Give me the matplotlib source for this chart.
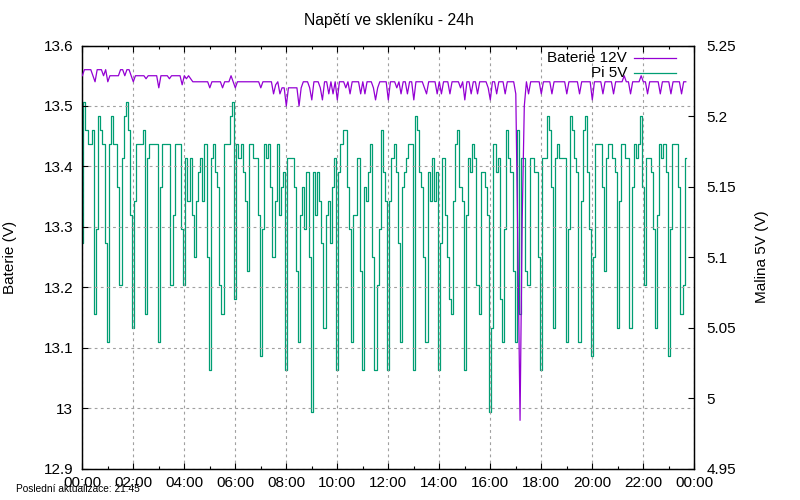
import matplotlib
matplotlib.use("Agg")
import matplotlib.pyplot as plt
from matplotlib.ticker import MultipleLocator, FixedLocator

plt.rcParams['font.family'] = ['Liberation Sans', 'DejaVu Sans']

# sampling: every 5 minutes starting 00:00
step_min = 5

battery_12v = [
    13.55, 13.56, 13.56, 13.56, 13.56, 13.55, 13.54, 13.56, 13.56, 13.56,
    13.55, 13.56, 13.54, 13.55, 13.55, 13.55, 13.55, 13.55, 13.56, 13.56,
    13.55, 13.56, 13.56, 13.55, 13.54, 13.55, 13.55, 13.55, 13.55, 13.55,
    13.545, 13.55, 13.55, 13.55, 13.55, 13.55, 13.53, 13.55, 13.55, 13.55,
    13.55, 13.545, 13.55, 13.55, 13.55, 13.55, 13.55, 13.535, 13.55, 13.545,
    13.55, 13.545, 13.54, 13.54, 13.54, 13.54, 13.54, 13.54, 13.54, 13.54,
    13.53, 13.54, 13.54, 13.54, 13.54, 13.54, 13.53, 13.54, 13.54, 13.54,
    13.55, 13.54, 13.53, 13.54, 13.54, 13.54, 13.54, 13.54, 13.54, 13.54,
    13.54, 13.54, 13.54, 13.54, 13.53, 13.54, 13.54, 13.54, 13.54, 13.54,
    13.52, 13.535, 13.54, 13.52, 13.53, 13.53, 13.50, 13.53, 13.53, 13.53,
    13.53, 13.53, 13.50, 13.53, 13.54, 13.54, 13.54, 13.53, 13.51, 13.54,
    13.54, 13.54, 13.53, 13.51, 13.54, 13.54, 13.52, 13.54, 13.52, 13.54,
    13.51, 13.54, 13.54, 13.54, 13.53, 13.54, 13.52, 13.54, 13.54, 13.54,
    13.54, 13.52, 13.54, 13.52, 13.54, 13.54, 13.54, 13.53, 13.51, 13.53,
    13.54, 13.54, 13.54, 13.54, 13.51, 13.54, 13.54, 13.54, 13.53, 13.54,
    13.52, 13.54, 13.54, 13.52, 13.54, 13.54, 13.51, 13.54, 13.54, 13.54,
    13.54, 13.53, 13.52, 13.54, 13.54, 13.54, 13.54, 13.52, 13.54, 13.52,
    13.54, 13.54, 13.54, 13.52, 13.54, 13.54, 13.54, 13.54, 13.53, 13.54,
    13.51, 13.54, 13.54, 13.52, 13.54, 13.54, 13.52, 13.54, 13.54, 13.54,
    13.54, 13.53, 13.51, 13.54, 13.54, 13.52, 13.54, 13.54, 13.54, 13.52,
    13.54, 13.54, 13.54, 13.54, 13.52, 13.26, 12.98, 13.31, 13.50, 13.54,
    13.52, 13.54, 13.54, 13.54, 13.54, 13.54, 13.52, 13.54, 13.54, 13.54,
    13.54, 13.52, 13.54, 13.54, 13.54, 13.54, 13.54, 13.54, 13.52, 13.54,
    13.54, 13.54, 13.54, 13.54, 13.52, 13.54, 13.54, 13.54, 13.54, 13.54,
    13.51, 13.54, 13.54, 13.54, 13.54, 13.52, 13.54, 13.54, 13.54, 13.54,
    13.52, 13.54, 13.54, 13.54, 13.54, 13.55, 13.54, 13.54, 13.52, 13.54,
    13.54, 13.54, 13.54, 13.55, 13.54, 13.54, 13.52, 13.54, 13.54, 13.54,
    13.54, 13.54, 13.52, 13.54, 13.54, 13.54, 13.54, 13.52, 13.54, 13.54,
    13.54, 13.54, 13.52, 13.54, 13.54,
]

pi_5v = [
    5.11, 5.21, 5.19, 5.18, 5.18, 5.19, 5.06, 5.12, 5.20, 5.19,
    5.18, 5.11, 5.04, 5.18, 5.20, 5.18, 5.18, 5.15, 5.08, 5.17,
    5.20, 5.21, 5.19, 5.13, 5.05, 5.14, 5.18, 5.18, 5.18, 5.19,
    5.06, 5.17, 5.18, 5.18, 5.18, 5.18, 5.04, 5.15, 5.18, 5.18,
    5.18, 5.18, 5.08, 5.13, 5.18, 5.18, 5.18, 5.12, 5.08, 5.17,
    5.14, 5.17, 5.13, 5.10, 5.14, 5.16, 5.17, 5.14, 5.18, 5.10,
    5.02, 5.17, 5.18, 5.16, 5.15, 5.08, 5.06, 5.18, 5.18, 5.18,
    5.20, 5.21, 5.07, 5.18, 5.17, 5.18, 5.16, 5.14, 5.09, 5.18,
    5.18, 5.17, 5.17, 5.13, 5.03, 5.12, 5.18, 5.17, 5.18, 5.15,
    5.10, 5.14, 5.18, 5.13, 5.15, 5.16, 5.02, 5.17, 5.17, 5.17,
    5.15, 5.09, 5.04, 5.13, 5.15, 5.12, 5.16, 5.10, 4.99, 5.16,
    5.13, 5.16, 5.14, 5.11, 5.05, 5.13, 5.14, 5.11, 5.15, 5.17,
    5.02, 5.16, 5.18, 5.19, 5.19, 5.15, 5.12, 5.04, 5.13, 5.13,
    5.17, 5.09, 5.02, 5.15, 5.14, 5.16, 5.18, 5.10, 5.02, 5.08,
    5.12, 5.19, 5.16, 5.14, 5.02, 5.14, 5.17, 5.18, 5.16, 5.11,
    5.04, 5.15, 5.16, 5.17, 5.18, 5.18, 5.02, 5.20, 5.19, 5.16,
    5.15, 5.10, 5.04, 5.16, 5.14, 5.17, 5.14, 5.16, 5.02, 5.11,
    5.17, 5.13, 5.10, 5.07, 5.06, 5.14, 5.18, 5.19, 5.15, 5.14,
    5.02, 5.13, 5.17, 5.16, 5.18, 5.17, 5.08, 5.06, 5.16, 5.16,
    5.15, 5.13, 4.99, 5.05, 5.18, 5.16, 5.17, 5.07, 5.04, 5.12,
    5.19, 5.17, 5.16, 5.09, 5.04, 5.19, 5.06, 5.17, 5.17, 5.09,
    5.08, 5.17, 5.17, 5.16, 5.16, 5.10, 5.02, 5.17, 5.17, 5.20,
    5.19, 5.15, 5.05, 5.17, 5.18, 5.17, 5.17, 5.17, 5.04, 5.12,
    5.20, 5.19, 5.17, 5.16, 5.04, 5.14, 5.19, 5.20, 5.16, 5.12,
    5.03, 5.10, 5.18, 5.18, 5.18, 5.15, 5.09, 5.17, 5.18, 5.18,
    5.17, 5.16, 5.05, 5.14, 5.18, 5.18, 5.17, 5.17, 5.05, 5.15,
    5.18, 5.17, 5.18, 5.20, 5.15, 5.08, 5.17, 5.17, 5.16, 5.12,
    5.05, 5.13, 5.18, 5.17, 5.18, 5.16, 5.03, 5.12, 5.18, 5.18,
    5.18, 5.15, 5.06, 5.08, 5.17,
]

hours = [i * step_min / 60.0 for i in range(len(battery_12v))]

xtick_hours = list(range(0, 25, 2))
xtick_labels = ["00:00", "02:00", "04:00", "06:00", "08:00", "10:00", "12:00",
                "14:00", "16:00", "18:00", "20:00", "22:00", "00:00"]
y1_ticks = [12.9, 13.0, 13.1, 13.2, 13.3, 13.4, 13.5, 13.6]
y1_labels = ["12.9", "13", "13.1", "13.2", "13.3", "13.4", "13.5", "13.6"]
y2_ticks = [4.95, 5.0, 5.05, 5.1, 5.15, 5.2, 5.25]
y2_labels = ["4.95", "5", "5.05", "5.1", "5.15", "5.2", "5.25"]

PURPLE = "#9400D3"
GREEN = "#009E73"
FS = 11

fig = plt.figure(figsize=(8, 5), dpi=100)
ax = fig.add_axes([82.3 / 800, (500 - 468.7) / 500, 612 / 800, 423.2 / 500])
ax2 = ax.twinx()

ax.plot(hours, battery_12v, color=PURPLE, lw=0.9, zorder=3)
ax2.plot(hours, pi_5v, color=GREEN, lw=0.9, zorder=2, drawstyle='steps-mid')
ax.set_zorder(ax2.get_zorder() + 1)
ax.patch.set_visible(False)

ax.set_xlim(0, 24)
ax.set_ylim(12.9, 13.6)
ax2.set_ylim(4.95, 5.25)

ax.xaxis.set_major_locator(FixedLocator(xtick_hours))
ax.set_xticklabels(xtick_labels)
ax.xaxis.set_minor_locator(MultipleLocator(1))
ax.yaxis.set_major_locator(FixedLocator(y1_ticks))
ax.set_yticklabels(y1_labels)
ax2.yaxis.set_major_locator(FixedLocator(y2_ticks))
ax2.set_yticklabels(y2_labels)

ax.tick_params(axis='x', which='both', direction='in', top=True, bottom=True,
               labelsize=FS, pad=5, colors='black')
ax.tick_params(axis='x', which='major', length=4.5, width=0.8)
ax.tick_params(axis='x', which='minor', length=2.5, width=0.8)
ax.tick_params(axis='y', which='major', direction='in', left=True, right=False,
               length=4.5, width=0.8, labelsize=FS, pad=6.5)
ax2.tick_params(axis='y', which='major', direction='in', right=True, left=False,
                length=4.5, width=0.8, labelsize=FS, pad=9)

ax.grid(True, which='major', color='#a0a0a0', linestyle=(0, (2.5, 3)), lw=0.8)
ax2.grid(False)

for sp in list(ax.spines.values()) + list(ax2.spines.values()):
    sp.set_linewidth(0.9)
    sp.set_color('black')

ax.set_ylabel("Baterie (V)", fontsize=FS)
ax.yaxis.set_label_coords(-0.106, 0.5)
ax2.set_ylabel("Malina 5V (V)", fontsize=FS)
ax2.yaxis.set_label_coords(1.099, 0.5)

# legend (gnuplot style: right-aligned text, sample line to the right)
ax.text(0.890, 0.9698, "Baterie 12V", transform=ax.transAxes, ha='right',
        va='center', fontsize=FS, zorder=5)
ax.plot([0.9016, 0.9703], [0.9698, 0.9698], transform=ax.transAxes,
        color=PURPLE, lw=0.9, zorder=5)
ax.text(0.890, 0.9343, "Pi 5V", transform=ax.transAxes, ha='right',
        va='center', fontsize=FS, zorder=5)
ax.plot([0.9016, 0.9703], [0.9343, 0.9343], transform=ax.transAxes,
        color=GREEN, lw=0.9, zorder=5)

fig.text(388.9 / 800, 1 - 21 / 500, "Napětí ve skleníku - 24h", ha='center',
         va='center', fontsize=11.3)
fig.text(16 / 800, 1 - 489 / 500, "Poslední aktualizace: 21:45", ha='left',
         va='center', fontsize=7.3)

fig.savefig("out.png", dpi=100)
